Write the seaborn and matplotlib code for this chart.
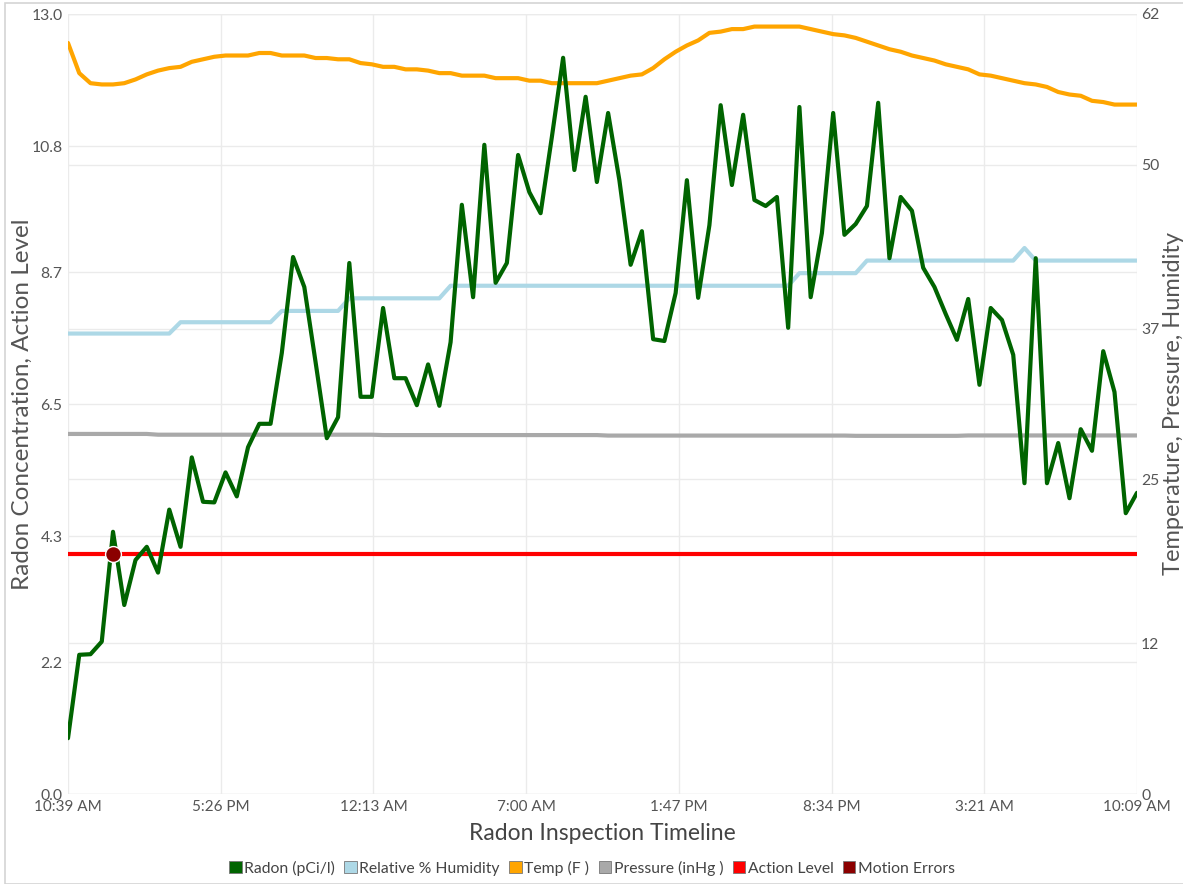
import numpy as np
import pandas as pd
import matplotlib
matplotlib.use("Agg")
import matplotlib.pyplot as plt
from matplotlib.patches import Patch, Rectangle
import seaborn as sns

# ---------------- data ----------------
start_time = "2023-01-01 10:39"
step_minutes = 30

radon = [0.93, 2.32, 2.33, 2.54, 4.37, 3.15, 3.90, 4.12, 3.69, 4.74,
         4.12, 5.61, 4.87, 4.86, 5.36, 4.96, 5.78, 6.17, 6.17, 7.35,
         8.95, 8.45, 7.20, 5.93, 6.28, 8.85, 6.62, 6.62, 8.10, 6.93,
         6.93, 6.48, 7.16, 6.47, 7.53, 9.82, 8.28, 10.82, 8.52, 8.85,
         10.65, 10.03, 9.68, 10.95, 12.27, 10.40, 11.62, 10.20, 11.35, 10.23,
         8.82, 9.38, 7.58, 7.55, 8.35, 10.23, 8.27, 9.48, 11.48, 10.15,
         11.32, 9.90, 9.80, 9.95, 7.77, 11.45, 8.28, 9.35, 11.35, 9.32,
         9.50, 9.80, 11.52, 8.93, 9.95, 9.72, 8.77, 8.45, 8.00, 7.57,
         8.25, 6.82, 8.10, 7.90, 7.32, 5.18, 8.93, 5.18, 5.85, 4.93,
         6.08, 5.72, 7.38, 6.70, 4.68, 5.02]

humidity = ([36.6] * 10 + [37.5] * 9 + [38.4] * 6 + [39.4] * 9 + [40.4] * 31
            + [41.4] * 6 + [42.4] * 14 + [43.4] + [42.4] * 10)

temperature = [59.7, 57.3, 56.5, 56.4, 56.4, 56.5, 56.8, 57.2, 57.5, 57.7,
               57.8, 58.2, 58.4, 58.6, 58.7, 58.7, 58.7, 58.9, 58.9, 58.7,
               58.7, 58.7, 58.5, 58.5, 58.4, 58.4, 58.1, 58.0, 57.8, 57.8,
               57.6, 57.6, 57.5, 57.3, 57.3, 57.1, 57.1, 57.1, 56.9, 56.9,
               56.9, 56.7, 56.7, 56.5, 56.5, 56.5, 56.5, 56.5, 56.7, 56.9,
               57.1, 57.2, 57.7, 58.4, 59.0, 59.5, 59.9, 60.5, 60.6, 60.8,
               60.8, 61.0, 61.0, 61.0, 61.0, 61.0, 60.8, 60.6, 60.4, 60.3,
               60.1, 59.8, 59.5, 59.2, 59.0, 58.7, 58.5, 58.3, 58.0, 57.8,
               57.6, 57.2, 57.1, 56.9, 56.7, 56.5, 56.4, 56.2, 55.8, 55.6,
               55.5, 55.1, 55.0, 54.8, 54.8, 54.8]

pressure = ([28.62] * 8 + [28.56] * 20 + [28.53] * 20 + [28.49] * 22
            + [28.47] * 10 + [28.50] * 16)

action_level = 4.0
motion_error_index = [4]

left_ticks = [0.0, 2.2, 4.3, 6.5, 8.7, 10.8, 13.0]
right_ticks = [0, 12, 25, 37, 50, 62]
x_tick_labels = ["10:39 AM", "5:26 PM", "12:13 AM", "7:00 AM",
                 "1:47 PM", "8:34 PM", "3:21 AM", "10:09 AM"]

labels = ["Radon (pCi/l)", "Relative % Humidity", "Temp (F )",
          "Pressure (inHg )", "Action Level", "Motion Errors"]
colors = ["#006400", "#ADD8E6", "#FFA500", "#A9A9A9", "#FF0000", "#8B0000"]

# ---------------- frame ----------------
times = pd.date_range(start_time, periods=len(radon), freq=f"{step_minutes}min")
df = pd.DataFrame({"time": times, "radon": radon, "humidity": humidity,
                   "temperature": temperature, "pressure": pressure,
                   "action": [action_level] * len(radon)})

sns.set_theme(style="white")
plt.rcParams["font.family"] = ["Lato", "DejaVu Sans"]

W, H = 1183, 884
fig = plt.figure(figsize=(W / 100, H / 100), dpi=100)
fig.patches.append(Rectangle((5 / W, 0), 1.0, 1 - 3 / H, transform=fig.transFigure,
                             fill=False, edgecolor="#d4d4d4", linewidth=1.2))

ax_pos = [68 / W, 90 / H, (1137 - 68) / W, (794 - 14) / H]
ax = fig.add_axes(ax_pos)
ax2 = ax.twinx()
ax2.set_position(ax_pos)
ax.set_zorder(ax2.get_zorder() + 1)
ax.patch.set_visible(False)

right_max = right_ticks[-1]
left_max = left_ticks[-1]

# secondary series (drawn beneath)
sns.lineplot(data=df, x="time", y="pressure", ax=ax2, color=colors[3], lw=3.0, legend=False)
sns.lineplot(data=df, x="time", y="humidity", ax=ax2, color=colors[1], lw=3.0, legend=False)
sns.lineplot(data=df, x="time", y="temperature", ax=ax2, color=colors[2], lw=3.0, legend=False)

# primary series
sns.lineplot(data=df, x="time", y="action", ax=ax, color=colors[4], lw=3.0, legend=False)
sns.lineplot(data=df, x="time", y="radon", ax=ax, color=colors[0], lw=3.0, legend=False)
me = df.iloc[motion_error_index]
sns.scatterplot(x=me["time"], y=[action_level] * len(me), ax=ax, color=colors[5],
                s=130, edgecolor="white", linewidth=1.0, zorder=5, legend=False)

# limits / ticks
ax.set_xlim(times[0], times[-1])
ax.set_ylim(0, left_max)
ax2.set_ylim(0, right_max)
xt = pd.to_datetime(np.linspace(times[0].value, times[-1].value, len(x_tick_labels)))
ax.set_xticks(xt)
ax.set_xticklabels(x_tick_labels)
ax.set_yticks(left_ticks)
ax.set_yticklabels([f"{v:.1f}" for v in left_ticks])
ax2.set_yticks(right_ticks)
ax2.set_yticklabels([str(v) for v in right_ticks])

# gridlines all on the lower axes
grid_col = "#ebebeb"
ax.grid(False)
ax2.grid(False)
for v in left_ticks:
    ax2.axhline(v * right_max / left_max, color=grid_col, lw=1.0, zorder=0)
for v in right_ticks:
    ax2.axhline(v, color=grid_col, lw=1.0, zorder=0)
for t in xt:
    ax2.axvline(t, color=grid_col, lw=1.0, zorder=0)

for a in (ax, ax2):
    for s in a.spines.values():
        s.set_visible(False)
    a.tick_params(length=0, colors="#555555", labelsize=11.3)
ax.tick_params(axis="x", labelsize=11)
ax.tick_params(axis="y", pad=4)
ax2.tick_params(axis="y", pad=3)
ax.tick_params(axis="x", pad=4)

ax.set_xlabel("Radon Inspection Timeline", fontsize=16.5, color="#444444")
ax.xaxis.set_label_coords(0.5, -0.037)
ax.set_ylabel("Radon Concentration, Action Level", fontsize=17.5, color="#555555")
ax.yaxis.set_label_coords(-0.033, 0.5)
ax2.set_ylabel("Temperature, Pressure, Humidity", fontsize=17, color="#555555",
               rotation=90)
ax2.yaxis.set_label_coords(1.024, 0.5)

handles = [Patch(facecolor=c, edgecolor="#777777", linewidth=0.6) for c in colors]
fig.legend(handles, labels, loc="center", bbox_to_anchor=(592 / W, (H - 868) / H),
           ncol=6, frameon=False, fontsize=11.3, handlelength=0.8, handleheight=0.8,
           handletextpad=0.15, columnspacing=0.6, labelcolor="#444444")

fig.savefig("out.png", dpi=100)
